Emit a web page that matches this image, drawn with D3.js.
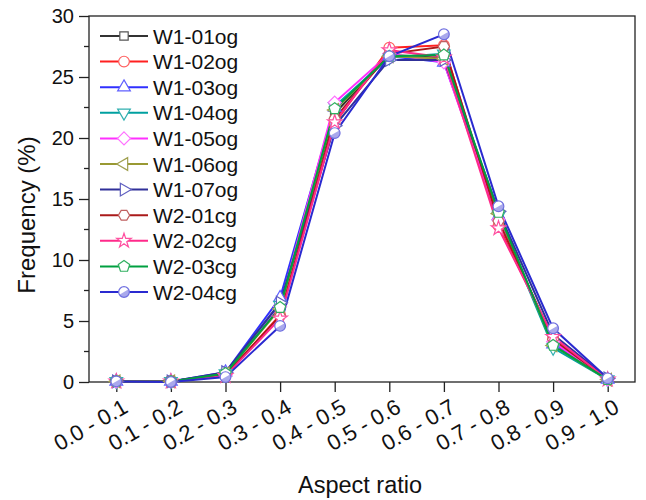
<!DOCTYPE html>
<html>
<head>
<meta charset="utf-8">
<script src="https://cdn.jsdelivr.net/npm/d3@7"></script>
<style>
  body { margin: 0; background: #fff; }
  text { font-family: "Liberation Sans", Arial, sans-serif; }
</style>
</head>
<body>
<svg width="646" height="500"></svg>
<script>
const categories = ['0.0 - 0.1','0.1 - 0.2','0.2 - 0.3','0.3 - 0.4','0.4 - 0.5','0.5 - 0.6','0.6 - 0.7','0.7 - 0.8','0.8 - 0.9','0.9 - 1.0'];
const seriesNames = ['W1-01og','W1-02og','W1-03og','W1-04og','W1-05og','W1-06og','W1-07og','W2-01cg','W2-02cg','W2-03cg','W2-04cg'];
const w101 = [0.05, 0.05, 0.7, 6.3, 22.0, 26.8, 26.6, 13.5, 3.2, 0.2];
const w102 = [0.05, 0.05, 0.5, 5.5, 21.2, 27.4, 27.6, 12.8, 3.6, 0.2];
const w103 = [0.05, 0.05, 0.8, 6.9, 22.5, 26.7, 26.2, 13.6, 3.1, 0.2];
const w104 = [0.05, 0.05, 0.7, 6.3, 22.6, 26.6, 26.9, 13.6, 2.8, 0.2];
const w105 = [0.05, 0.05, 0.6, 6.2, 22.9, 26.9, 26.2, 13.3, 3.3, 0.2];
const w106 = [0.05, 0.05, 0.7, 6.0, 22.3, 26.7, 26.5, 13.8, 3.0, 0.2];
const w107 = [0.05, 0.05, 0.8, 6.5, 21.0, 26.4, 26.4, 14.0, 3.9, 0.3];
const w201 = [0.05, 0.05, 0.6, 5.4, 21.6, 26.9, 27.5, 13.2, 3.5, 0.2];
const w202 = [0.05, 0.05, 0.5, 5.2, 21.3, 27.2, 26.6, 12.6, 3.7, 0.2];
const w203 = [0.05, 0.05, 0.7, 6.1, 22.4, 26.7, 26.8, 13.9, 3.0, 0.2];
const w204 = [0.05, 0.00, 0.4, 4.6, 20.4, 26.7, 28.5, 14.4, 4.4, 0.3];
const seriesValues = [w101, w102, w103, w104, w105, w106, w107, w201, w202, w203, w204];
const yTicks = [0, 5, 10, 15, 20, 25, 30];

const lineColors = ['#333333','#ff2020','#3030ff','#00a0a0','#ff30ff','#999933','#303099','#aa1a1a','#ff2a8a','#00a040','#2a2ad0'];
const markColors = ['#555555','#ff6060','#6060ff','#30b0b0','#ff70ff','#a0a050','#6060c0','#c06060','#ff50a0','#30b060','#7070e0'];

// polygon helper for hexagon / pentagon
function poly(n, r, rot) {
  const pts = d3.range(n).map(i => {
    const a = rot + i * 2 * Math.PI / n;
    return [r * Math.cos(a), r * Math.sin(a)];
  });
  return 'M' + pts.join('L') + 'Z';
}
const tri = d3.symbol().type(d3.symbolTriangle).size(70)();
const markers = [
  {d: d3.symbol().type(d3.symbolSquare).size(70)()},
  {d: d3.symbol().type(d3.symbolCircle).size(90)()},
  {d: tri, rot: 0},
  {d: tri, rot: 180},
  {d: 'M0,-6.5L6.5,0L0,6.5L-6.5,0Z'},
  {d: tri, rot: -90},
  {d: tri, rot: 90},
  {d: poly(6, 5.6, 0)},
  {d: d3.symbol().type(d3.symbolStar).size(65)()},
  {d: poly(5, 6, -Math.PI / 2)},
  {d: d3.symbol().type(d3.symbolCircle).size(90)(), half: true}
];

const svg = d3.select('svg');
const mLeft = 89, mRight = 635, mTop = 16, mBottom = 382;

const x = d3.scaleLinear().domain([-0.5, 9.5]).range([mLeft, mRight]);
const y = d3.scaleLinear().domain([0, 30]).range([mBottom, mTop]);

// frame
svg.append('rect')
  .attr('x', mLeft).attr('y', mTop)
  .attr('width', mRight - mLeft).attr('height', mBottom - mTop)
  .attr('fill', 'none').attr('stroke', '#222').attr('stroke-width', 1.3);

// y axis
const gY = svg.append('g').attr('transform', `translate(${mLeft},0)`)
  .call(d3.axisLeft(y).tickValues(yTicks).tickSize(10).tickPadding(5));
gY.select('.domain').remove();
gY.selectAll('line').attr('stroke', '#222').attr('stroke-width', 1.3);
gY.selectAll('text').attr('font-size', 20).attr('fill', '#111')
  .attr('font-family', '"Liberation Sans", Arial, sans-serif');
gY.selectAll('.minor')
  .data(d3.range(2.5, 30, 5))
  .enter().append('line')
  .attr('x1', -5).attr('x2', 0)
  .attr('y1', d => y(d)).attr('y2', d => y(d))
  .attr('stroke', '#222').attr('stroke-width', 1.3);

// x axis
const gX = svg.append('g').attr('transform', `translate(0,${mBottom})`)
  .call(d3.axisBottom(x).tickValues(d3.range(10)).tickSize(10).tickFormat(i => categories[i]));
gX.select('.domain').remove();
gX.selectAll('line').attr('stroke', '#222').attr('stroke-width', 1.3);
gX.selectAll('text')
  .attr('font-size', 22).attr('fill', '#111')
  .attr('font-family', '"Liberation Sans", Arial, sans-serif')
  .attr('text-anchor', 'end')
  .attr('dy', 0)
  .attr('transform', 'translate(6,18) rotate(-30)');

// titles
svg.append('text').text('Aspect ratio')
  .attr('x', 360).attr('y', 493)
  .attr('text-anchor', 'middle').attr('font-size', 23.5).attr('fill', '#111');
svg.append('text').text('Frequency (%)')
  .attr('transform', 'translate(35,215) rotate(-90)')
  .attr('text-anchor', 'middle').attr('font-size', 24).attr('fill', '#111');

// lines
const line = d3.line().x((d, i) => x(i)).y(d => y(d));
seriesValues.forEach((vals, s) => {
  svg.append('path')
    .attr('d', line(vals))
    .attr('fill', 'none')
    .attr('stroke', lineColors[s])
    .attr('stroke-width', 2);
});

function drawMarker(g, s, cx, cy) {
  const m = markers[s];
  const t = `translate(${cx},${cy})` + (m.rot ? ` rotate(${m.rot})` : '');
  g.append('path').attr('d', m.d).attr('transform', t)
    .attr('fill', '#fff').attr('stroke', markColors[s]).attr('stroke-width', 1.2);
  if (m.half) {
    g.append('path').attr('d', 'M-5.3,0A5.3,5.3 0 0 0 5.3,0Z')
      .attr('transform', `translate(${cx},${cy}) rotate(-30)`)
      .attr('fill', markColors[s]).attr('opacity', 0.6);
  }
}

seriesValues.forEach((vals, s) => {
  const g = svg.append('g');
  vals.forEach((v, i) => drawMarker(g, s, x(i), y(v)));
});

// legend
const legend = svg.append('g');
seriesNames.forEach((name, s) => {
  const ly = 36 + s * 25.6;
  legend.append('line')
    .attr('x1', 100).attr('x2', 148).attr('y1', ly).attr('y2', ly)
    .attr('stroke', lineColors[s]).attr('stroke-width', 2);
  drawMarker(legend, s, 124, ly);
  legend.append('text').text(name)
    .attr('x', 153).attr('y', ly + 7.5)
    .attr('font-size', 21).attr('fill', '#111');
});
</script>
</body>
</html>
